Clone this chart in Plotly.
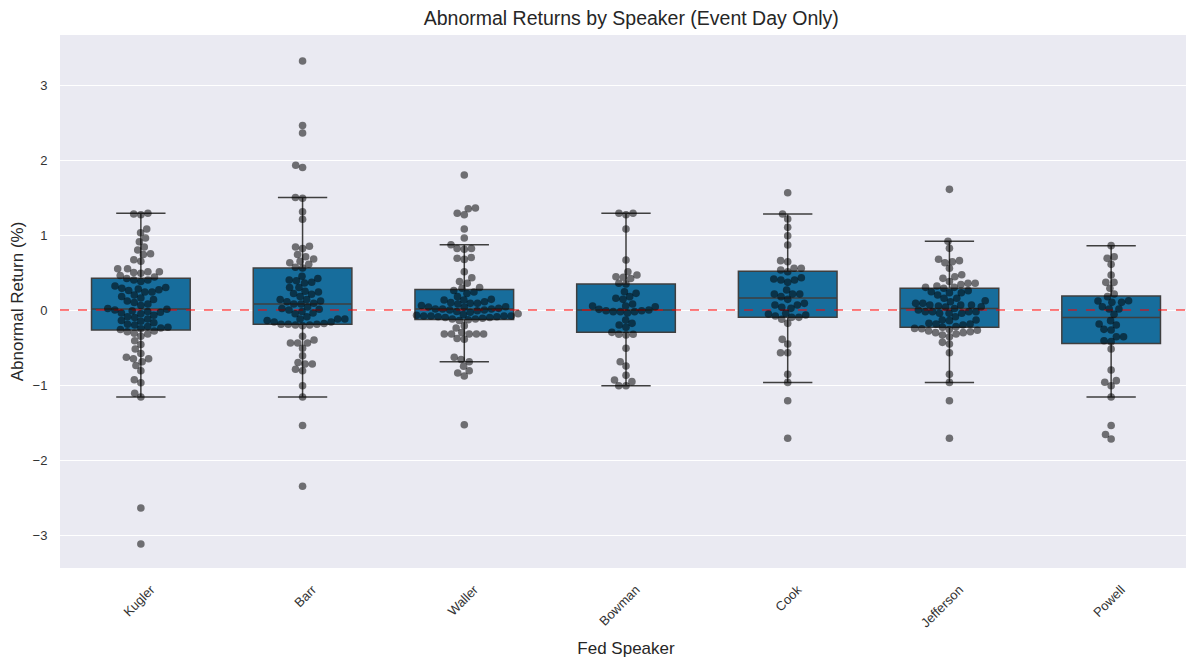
import numpy as np
import plotly.graph_objects as go

speakers = ["Kugler", "Barr", "Waller", "Bowman", "Cook", "Jefferson", "Powell"]

kugler = [1.29, 1.28, 1.27, 1.08, 1.03, 0.96, 0.91, 0.84, 0.80, 0.75, 0.74, 0.67, 0.65,
          0.55, 0.55, 0.51, 0.51, 0.50, 0.49, 0.46, 0.44,
          0.42, 0.40, 0.40, 0.38, 0.32, 0.30, 0.29, 0.28, 0.27, 0.26, 0.24, 0.24, 0.20,
          0.18, 0.16, 0.14, 0.12, 0.10, 0.08, 0.06,
          0.02,
          0.01, 0.0, -0.01, -0.02, -0.03, -0.04, -0.05, -0.07, -0.09, -0.10, -0.12, -0.14,
          -0.15, -0.17, -0.19, -0.20, -0.22, -0.23, -0.24, -0.25, -0.26,
          -0.28, -0.29, -0.31, -0.32, -0.35, -0.41, -0.46, -0.52, -0.58, -0.63, -0.65,
          -0.65, -0.69, -0.74, -0.81, -0.93, -0.97, -1.11, -1.16, -2.64, -3.12]

barr = [3.32, 2.46, 2.36, 1.93, 1.90, 1.50, 1.49, 1.31, 1.21, 0.85, 0.84, 0.82, 0.74,
        0.71, 0.68, 0.65, 0.63, 0.61, 0.57, 0.56,
        0.45, 0.42, 0.40, 0.39, 0.37, 0.36, 0.30, 0.30, 0.25, 0.24, 0.22, 0.21,
        0.18, 0.14, 0.14, 0.12, 0.11, 0.09, 0.08, 0.08,
        0.04, 0.02, 0.01, 0.0, -0.02, -0.04, -0.05, -0.09, -0.12, -0.12, -0.12,
        -0.14, -0.16, -0.16, -0.18, -0.19, -0.19,
        -0.20, -0.21, -0.20, -0.19, -0.35, -0.40, -0.44, -0.44, -0.44, -0.51, -0.61,
        -0.70, -0.72, -0.72, -0.79, -0.81, -1.01, -1.16, -1.54, -2.35]

waller = [1.80, 1.36, 1.35, 1.29, 1.27, 1.08, 0.96, 0.87, 0.82, 0.82, 0.81, 0.70, 0.69,
          0.675, 0.51, 0.43, 0.38, 0.356, 0.30,
          0.29, 0.26, 0.24, 0.22, 0.178, 0.142, 0.133, 0.133, 0.11, 0.098, 0.089, 0.089,
          0.08, 0.06, 0.044, 0.04, 0.036, 0.022, 0.013, 0.013, 0.013,
          0.0, 0.0, -0.01, -0.02, -0.03, -0.05, -0.06, -0.07, -0.08, -0.08, -0.08, -0.08,
          -0.09, -0.09, -0.10, -0.10, -0.11, -0.12, -0.12, -0.13,
          -0.14, -0.21, -0.24, -0.30, -0.32, -0.32, -0.32, -0.32, -0.32, -0.38, -0.39,
          -0.63, -0.66, -0.69, -0.75, -0.81, -0.84, -0.88, -1.53]

bowman = [1.29, 1.27, 1.29, 1.08, 0.667, 0.51, 0.444, 0.436, 0.42, 0.467, 0.356, 0.347,
          0.222, 0.244, 0.178, 0.156, 0.142, 0.08, 0.053, 0.044,
          0.009, -0.009, -0.022, -0.022, 0.0, -0.04, -0.022, -0.009, 0.053,
          -0.133, -0.2, -0.23, -0.178,
          -0.324, -0.333, -0.324, -0.298, -0.51, -0.69, -0.747, -0.87, -0.933, -0.955,
          -1.01, -1.01]

cook = [1.564, 1.28, 1.213, 1.102, 0.991, 0.867, 0.658, 0.644, 0.533, 0.511, 0.556, 0.556,
        0.431, 0.40, 0.369, 0.40, 0.413, 0.267, 0.213, 0.213, 0.178, 0.213, 0.142,
        0.067, 0.067, 0.022, 0.036, 0.089, -0.053, -0.067, -0.08, -0.098, -0.098, -0.044,
        -0.178, -0.124, -0.391, -0.453, -0.569, -0.569, -0.858, -0.965, -1.21, -1.71]

jefferson = [1.609, 0.916, 0.822, 0.676, 0.658, 0.644, 0.631, 0.556, 0.47, 0.444, 0.422,
             0.38, 0.356, 0.356, 0.34, 0.32, 0.302, 0.302,
             0.29, 0.258, 0.244, 0.231, 0.231, 0.2, 0.156, 0.156, 0.124, 0.111, 0.089,
             0.089, 0.067, 0.067, 0.067, 0.053, 0.044, 0.04, 0.02,
             0.0, -0.022, -0.022, -0.022, -0.022, -0.044, -0.044, -0.044, -0.089, -0.133,
             -0.133, -0.142, -0.178, -0.187, -0.187, -0.2, -0.222, -0.231,
             -0.245, -0.25, -0.26, -0.27, -0.28, -0.29, -0.302, -0.302, -0.32, -0.333,
             -0.356, -0.431, -0.453, -0.569, -0.858, -0.965, -1.21, -1.71]

powell = [0.858, 0.689, 0.711, 0.609, 0.467, 0.369, 0.369, 0.29, 0.213, 0.178,
          0.12, 0.102, 0.102, 0.124, 0.044, 0.013, -0.058, 0.013,
          -0.142, -0.187, -0.2, -0.258, -0.267, -0.356, -0.356, -0.422, -0.409,
          -0.52, -0.8, -0.964, -0.942, -1.009, -1.16, -1.54, -1.66, -1.72]

series = [kugler, barr, waller, bowman, cook, jefferson, powell]

# layout geometry (pixels); the page body adds an 8px offset
W, H = 1194, 659
M_L, M_R, M_T, M_B = 52, 10, 27, 99
X_RANGE = [-0.5, 6.5]
Y_RANGE = [-3.44, 3.667]
px_per_x = (W - M_L - M_R) / (X_RANGE[1] - X_RANGE[0])
px_per_y = (H - M_T - M_B) / (Y_RANGE[1] - Y_RANGE[0])
MARKER = 7.6
D = 7.2


def swarm_offsets(vals):
    vals = np.asarray(vals, dtype=float)
    order = np.argsort(vals, kind="stable")
    placed = []
    offs = np.zeros(len(vals))
    for idx in order:
        y = vals[idx] * px_per_y
        neigh = [(py, px) for py, px in placed if abs(py - y) < D]
        cands = [0.0]
        for py, px in neigh:
            dx = np.sqrt(max(D * D - (py - y) ** 2, 0.0))
            cands += [px + dx, px - dx]
        cands = sorted(cands, key=lambda c: (abs(c), c))
        chosen = cands[-1]
        for c in cands:
            if all((c - px) ** 2 + (y - py) ** 2 >= D * D - 1e-6 for py, px in neigh):
                chosen = c
                break
        offs[idx] = chosen
        placed.append((y, chosen))
    return offs / px_per_x


def box_stats(vals):
    v = np.sort(np.asarray(vals, dtype=float))
    q1, med, q3 = np.percentile(v, [25, 50, 75])
    iqr = q3 - q1
    lo = v[v >= q1 - 1.5 * iqr].min()
    hi = v[v <= q3 + 1.5 * iqr].max()
    return q1, med, q3, lo, hi


BOX_FILL = "#176d9c"
EDGE = "#3f3f3f"

fig = go.Figure()

for i, vals in enumerate(series):
    q1, med, q3, lo, hi = box_stats(vals)
    fig.add_trace(go.Box(
        x=[i], q1=[q1], median=[med], q3=[q3], lowerfence=[lo], upperfence=[hi],
        width=0.61, whiskerwidth=0.5, fillcolor=BOX_FILL,
        line=dict(color=EDGE, width=1.5), boxpoints=False,
        showlegend=False, hoverinfo="skip",
    ))

# zero reference line
fig.add_trace(go.Scatter(
    x=X_RANGE, y=[0, 0], mode="lines",
    line=dict(color="rgba(255,0,0,0.5)", width=2, dash="dash"),
    showlegend=False, hoverinfo="skip",
))

for i, vals in enumerate(series):
    offs = swarm_offsets(vals)
    fig.add_trace(go.Scatter(
        x=i + offs, y=vals, mode="markers",
        marker=dict(size=MARKER, color="rgba(0,0,0,0.53)", line=dict(width=0)),
        showlegend=False, hoverinfo="y",
    ))

FONT = "Liberation Sans, Arial, sans-serif"
fig.update_layout(
    width=W, height=H,
    margin=dict(l=M_L, r=M_R, t=M_T, b=M_B, autoexpand=False),
    paper_bgcolor="white", plot_bgcolor="#eaeaf2",
    font=dict(family=FONT, color="#262626", size=13),
    title=dict(text="Abnormal Returns by Speaker (Event Day Only)",
               x=0.522, xanchor="center", y=0.985, yanchor="middle",
               font=dict(size=19.5, color="#262626")),
)
fig.update_xaxes(
    range=X_RANGE, tickmode="array", tickvals=list(range(len(speakers))),
    ticktext=speakers, tickangle=-45, showgrid=False, zeroline=False,
    showline=False, ticks="outside", ticklen=8, tickcolor="rgba(0,0,0,0)",
    ticklabelshift=10,
    automargin=False, tickfont=dict(size=13, color="#333333"),
    title=dict(text="Fed Speaker", font=dict(size=17, color="#262626"), standoff=12),
)
fig.update_yaxes(
    range=Y_RANGE, tickmode="array", tickvals=[-3, -2, -1, 0, 1, 2, 3],
    showgrid=True, gridcolor="white", gridwidth=1.2, zeroline=False,
    showline=False, ticks="outside", ticklen=9, tickcolor="rgba(0,0,0,0)",
    automargin=False, tickfont=dict(size=13, color="#333333"),
    title=dict(text="Abnormal Return (%)", font=dict(size=17, color="#262626"), standoff=8),
)

fig.write_html("out.html")
